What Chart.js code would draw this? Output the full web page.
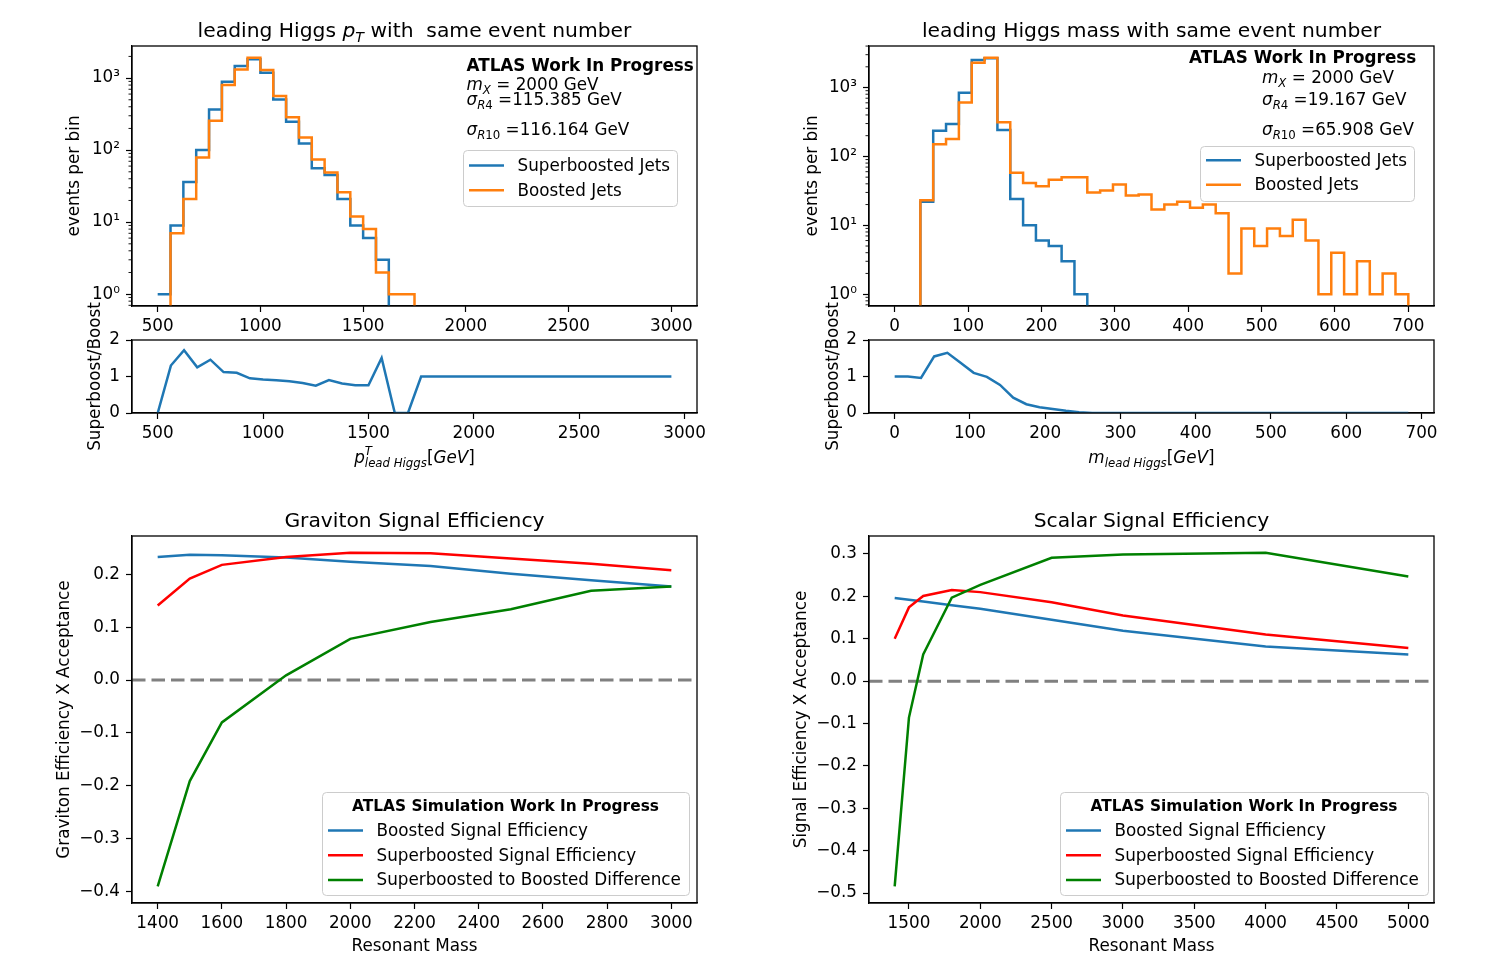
<!DOCTYPE html>
<html>
<head>
<meta charset="utf-8">
<title>Leading Higgs kinematics and signal efficiency</title>
<script src="https://cdn.jsdelivr.net/npm/chart.js@4.4.1/dist/chart.umd.min.js"></script>
<style>
  html, body { margin: 0; padding: 0; background: #fff; }
  #figure { position: relative; width: 1488px; height: 957px; background: #fff; }
  #figure canvas { position: absolute; left: 0; top: 0; }
</style>
</head>
<body>
<div id="figure">
  <canvas id="ptHistChart" width="1488" height="957"></canvas>
  <canvas id="ptRatioChart" width="1488" height="957"></canvas>
  <canvas id="massHistChart" width="1488" height="957"></canvas>
  <canvas id="massRatioChart" width="1488" height="957"></canvas>
  <canvas id="gravitonChart" width="1488" height="957"></canvas>
  <canvas id="scalarChart" width="1488" height="957"></canvas>
</div>
<script>
// ---------------- data ----------------
// leading Higgs pT, 40 bins of 62.5 GeV
const ptEdges = [500, 562.5, 625, 687.5, 750, 812.5, 875, 937.5, 1000, 1062.5, 1125, 1187.5, 1250, 1312.5,
  1375, 1437.5, 1500, 1562.5, 1625, 1687.5, 1750, 1812.5, 1875, 1937.5, 2000, 2062.5, 2125, 2187.5, 2250,
  2312.5, 2375, 2437.5, 2500, 2562.5, 2625, 2687.5, 2750, 2812.5, 2875, 2937.5, 3000];
const ptSuperboosted = [1, 9, 36, 100, 367, 889, 1468, 1820, 1185, 506, 247, 124, 56, 45, 21, 9, 6, 3, 0, 0,
  0, 0, 0, 0, 0, 0, 0, 0, 0, 0, 0, 0, 0, 0, 0, 0, 0, 0, 0, 0];
const ptBoosted = [0, 7, 21, 79, 255, 800, 1320, 1915, 1292, 562, 285, 150, 74, 49, 26, 12, 8, 2, 1, 1,
  0, 0, 0, 0, 0, 0, 0, 0, 0, 0, 0, 0, 0, 0, 0, 0, 0, 0, 0, 0];
const ptRatio = [0, 1.30, 1.72, 1.25, 1.46, 1.12, 1.10, 0.95, 0.92, 0.90, 0.87, 0.82, 0.75, 0.90, 0.81, 0.76,
  0.76, 1.51, 0, 0, 1, 1, 1, 1, 1, 1, 1, 1, 1, 1, 1, 1, 1, 1, 1, 1, 1, 1, 1, 1];

// leading Higgs mass, 40 bins of 17.5 GeV
const massEdges = [0, 17.5, 35, 52.5, 70, 87.5, 105, 122.5, 140, 157.5, 175, 192.5, 210, 227.5, 245, 262.5,
  280, 297.5, 315, 332.5, 350, 367.5, 385, 402.5, 420, 437.5, 455, 472.5, 490, 507.5, 525, 542.5, 560,
  577.5, 595, 612.5, 630, 647.5, 665, 682.5, 700];
const massSuperboosted = [0, 0, 22, 236, 296, 843, 2518, 2670, 242, 24, 10, 6, 5, 3, 1, 0, 0, 0, 0, 0,
  0, 0, 0, 0, 0, 0, 0, 0, 0, 0, 0, 0, 0, 0, 0, 0, 0, 0, 0, 0];
const massBoosted = [0, 0, 23, 150, 179, 604, 2300, 2700, 313, 58, 41, 37, 46, 50, 50, 30, 32, 39, 27, 28,
  17, 20, 22, 18, 20, 15, 2, 9, 5, 9, 7, 12, 6, 1, 4, 1, 3, 1, 2, 1];
const massRatio = [1, 1, 0.96, 1.55, 1.65, 1.38, 1.10, 0.99, 0.77, 0.42, 0.24, 0.16, 0.11, 0.06, 0.02, 0,
  0, 0, 0, 0, 0, 0, 0, 0, 0, 0, 0, 0, 0, 0, 0, 0, 0, 0, 0, 0, 0, 0, 0, 0];

// signal efficiency x acceptance
const gravitonMass = [1400, 1500, 1600, 1800, 2000, 2250, 2500, 2750, 3000];
const gravitonBoosted = [0.233, 0.237, 0.236, 0.232, 0.224, 0.216, 0.201, 0.189, 0.177];
const gravitonSuperboosted = [0.141, 0.192, 0.218, 0.233, 0.241, 0.240, 0.230, 0.220, 0.208];
const gravitonDifference = [-0.390, -0.191, -0.080, 0.009, 0.078, 0.110, 0.134, 0.169, 0.177];

const scalarMass = [1400, 1500, 1600, 1800, 2000, 2500, 3000, 4000, 5000];
const scalarBoosted = [0.196, 0.192, 0.188, 0.179, 0.171, 0.145, 0.119, 0.082, 0.063];
const scalarSuperboosted = [0.100, 0.174, 0.201, 0.215, 0.210, 0.186, 0.155, 0.110, 0.078];
const scalarDifference = [-0.484, -0.086, 0.063, 0.197, 0.227, 0.291, 0.299, 0.303, 0.247];

// tick labels
const ptTicks = [500, 1000, 1500, 2000, 2500, 3000];
const massTicks = [0, 100, 200, 300, 400, 500, 600, 700];
const countTicks = [1, 10, 100, 1000];
const ratioTicks = [0, 1, 2];
const gravitonXTicks = [1400, 1600, 1800, 2000, 2200, 2400, 2600, 2800, 3000];
const gravitonYTicks = [-0.4, -0.3, -0.2, -0.1, 0.0, 0.1, 0.2];
const scalarXTicks = [1500, 2000, 2500, 3000, 3500, 4000, 4500, 5000];
const scalarYTicks = [-0.5, -0.4, -0.3, -0.2, -0.1, 0.0, 0.1, 0.2, 0.3];

// ---------------- look ----------------
const PAGE_W = 1488, PAGE_H = 957, X_AXIS_H = 40;
const FONT = '"DejaVu Sans", sans-serif';
const FS = 16.8;        // ticks, labels, legend
const TITLE_FS = 20.3;  // panel titles
const LEGEND_TITLE_FS = 15.4;
const BLUE = '#1f77b4', ORANGE = '#ff7f0e', RED = '#ff0000', GREEN = '#008000';
const EMPTY_BIN = 1e-3; // empty bins sit below the log axis floor

Chart.defaults.font.family = FONT;
Chart.defaults.font.size = FS;
Chart.defaults.color = '#000';
Chart.defaults.animation = false;
Chart.defaults.plugins.legend.display = false;
Chart.defaults.plugins.tooltip.enabled = false;
Chart.defaults.elements.point.radius = 0;
Chart.defaults.elements.line.tension = 0;

// plot areas on the page
const AREAS = {
  ptHist: { left: 132, top: 46, right: 697, bottom: 306 },
  ptRatio: { left: 132, top: 340, right: 697, bottom: 413 },
  massHist: { left: 869, top: 46, right: 1434, bottom: 306 },
  massRatio: { left: 869, top: 340, right: 1434, bottom: 413 },
  graviton: { left: 132, top: 536, right: 697, bottom: 903 },
  scalar: { left: 869, top: 536, right: 1434, bottom: 903 }
};

// tick formatters
const plain = v => String(v);
const SUP = { '0': '\u2070', '1': '\u00b9', '2': '\u00b2', '3': '\u00b3' };
const powerOfTen = v => '10' + String(Math.round(Math.log10(v))).split('').map(c => SUP[c]).join('');
const oneDecimal = v => (v < -1e-9 ? '\u2212' : '') + Math.abs(v).toFixed(1);

function minorLogTicks(min, max) {
  const out = [];
  [0.1, 1, 10, 100, 1000].forEach(d => {
    for (let m = 2; m <= 9; m++) {
      const v = m * d;
      if (v >= min && v <= max) out.push(v);
    }
  });
  return out;
}

// ---------------- helpers ----------------
function axis(type, min, max, tickValues, format, pad) {
  return {
    type, min, max, bounds: 'data',
    afterBuildTicks: s => { s.ticks = tickValues.map(v => ({ value: v })); },
    grid: { drawOnChartArea: false, tickLength: 6, tickColor: '#000', tickWidth: 1.2 },
    border: { color: '#000', width: 1.2 },
    ticks: { padding: pad, autoSkip: false, maxRotation: 0, minRotation: 0, callback: format }
  };
}

// histogram drawn as a step outline: two points per bin
function stepPoints(edges, counts) {
  const pts = [];
  counts.forEach((c, i) => {
    const y = c > 0 ? c : EMPTY_BIN;
    pts.push({ x: edges[i], y }, { x: edges[i + 1], y });
  });
  pts.push({ x: edges[edges.length - 1], y: EMPTY_BIN });
  return pts;
}

function histDataset(label, edges, counts, color, order) {
  return { label, data: stepPoints(edges, counts), borderColor: color, borderWidth: 2.5, order, borderJoinStyle: 'miter' };
}

function lineDataset(label, xs, ys, color, order) {
  return { label, data: xs.map((x, i) => ({ x, y: ys[i] })), borderColor: color, borderWidth: 2.5, order };
}

// text with italic / sub / superscript pieces
function partFont(p, size) {
  const s = (p.sub || p.sup) ? size * 0.7 : size;
  return (p.it ? 'italic ' : '') + (p.bold ? 'bold ' : '') + s + 'px ' + FONT;
}

function drawRich(ctx, spec) {
  const size = spec.size || FS;
  const parts = spec.parts.map(p => (typeof p === 'string' ? { t: p } : p));
  let width = 0;
  parts.forEach(p => {
    ctx.font = partFont(p, size);
    p.w = ctx.measureText(p.t).width;
    if (!p.hold) width += p.w;
  });
  ctx.save();
  ctx.translate(spec.x, spec.y);
  if (spec.rotate) ctx.rotate(-Math.PI / 2);
  ctx.fillStyle = '#000';
  ctx.textAlign = 'left';
  ctx.textBaseline = 'alphabetic';
  let x = spec.align === 'center' ? -width / 2 : spec.align === 'right' ? -width : 0;
  parts.forEach(p => {
    ctx.font = partFont(p, size);
    const dy = p.sub ? 0.24 * size : p.sup ? -0.45 * size : 0;
    ctx.fillText(p.t, x, dy);
    if (!p.hold) x += p.w;
  });
  ctx.restore();
}

function drawLegend(chart, lg) {
  const ctx = chart.ctx;
  ctx.save();
  ctx.beginPath();
  ctx.roundRect(lg.x + 0.5, lg.y + 0.5, lg.w, lg.h, 4);
  ctx.fillStyle = 'rgba(255,255,255,0.8)';
  ctx.fill();
  ctx.strokeStyle = '#cccccc';
  ctx.lineWidth = 1;
  ctx.stroke();
  ctx.fillStyle = '#000';
  ctx.textBaseline = 'alphabetic';
  if (lg.title) {
    ctx.font = 'bold ' + LEGEND_TITLE_FS + 'px ' + FONT;
    ctx.textAlign = 'center';
    ctx.fillText(lg.title, lg.x + lg.w / 2, lg.titleBaseline);
  }
  ctx.textAlign = 'left';
  ctx.font = FS + 'px ' + FONT;
  chart.data.datasets.forEach((ds, i) => {
    const base = lg.firstBaseline + i * lg.rowGap;
    ctx.strokeStyle = ds.borderColor;
    ctx.lineWidth = ds.borderWidth;
    ctx.beginPath();
    ctx.moveTo(lg.x + 6, base - 5.5);
    ctx.lineTo(lg.x + 41, base - 5.5);
    ctx.stroke();
    ctx.fillText(ds.label, lg.x + 54.5, base);
  });
  ctx.restore();
}

// frame, minor ticks, zero line, texts and legend
function figureDecor(cfg) {
  return {
    id: 'figureDecor',
    beforeDatasetsDraw(chart) {
      if (!cfg.zeroLine) return;
      const { ctx, chartArea: a } = chart;
      const y = chart.scales.y.getPixelForValue(0);
      ctx.save();
      ctx.strokeStyle = '#808080';
      ctx.lineWidth = 3;
      ctx.setLineDash([13.5, 6]);
      ctx.beginPath();
      ctx.moveTo(a.left, y);
      ctx.lineTo(a.right, y);
      ctx.stroke();
      ctx.restore();
    },
    afterDraw(chart) {
      const { ctx, chartArea: a } = chart;
      ctx.save();
      ctx.strokeStyle = '#000';
      ctx.lineWidth = 1.3;
      ctx.strokeRect(a.left, a.top, a.right - a.left, a.bottom - a.top);
      if (cfg.minorY) {
        ctx.lineWidth = 0.9;
        cfg.minorY.forEach(v => {
          const p = chart.scales.y.getPixelForValue(v);
          if (p < a.top || p > a.bottom) return;
          ctx.beginPath();
          ctx.moveTo(a.left - 3.5, p);
          ctx.lineTo(a.left, p);
          ctx.stroke();
        });
      }
      ctx.restore();
      (cfg.texts || []).forEach(t => drawRich(ctx, t));
      if (cfg.legend) drawLegend(chart, cfg.legend);
    }
  };
}

function makeChart(canvasId, area, datasets, xAxis, yAxis, decor) {
  const ctx = document.getElementById(canvasId).getContext('2d');
  xAxis.afterFit = s => { s.height = X_AXIS_H; };
  yAxis.afterFit = s => { s.width = area.left; };
  return new Chart(ctx, {
    type: 'line',
    data: { datasets },
    options: {
      responsive: false,
      devicePixelRatio: 1,
      layout: { padding: { left: 0, top: area.top, right: PAGE_W - area.right, bottom: PAGE_H - area.bottom - X_AXIS_H } },
      scales: { x: xAxis, y: yAxis }
    },
    plugins: [figureDecor(decor)]
  });
}

const cx = a => (a.left + a.right) / 2;
const cy = a => (a.top + a.bottom) / 2;

// ---------------- leading Higgs pT ----------------
const ptHistChart = makeChart('ptHistChart', AREAS.ptHist,
  [histDataset('Superboosted Jets', ptEdges, ptSuperboosted, BLUE, 1),
   histDataset('Boosted Jets', ptEdges, ptBoosted, ORANGE, 0)],
  axis('linear', 375, 3125, ptTicks, plain, 4.5),
  axis('logarithmic', 0.685, 2790, countTicks, powerOfTen, 6),
  {
    minorY: minorLogTicks(0.685, 2790),
    texts: [
      { x: cx(AREAS.ptHist), y: 37, align: 'center', size: TITLE_FS,
        parts: ['leading Higgs ', { t: 'p', it: true }, { t: 'T', it: true, sub: true }, ' with  same event number'] },
      { x: 79, y: cy(AREAS.ptHist), align: 'center', rotate: true, parts: ['events per bin'] },
      { x: 466.5, y: 71, parts: [{ t: 'ATLAS Work In Progress', bold: true }] },
      { x: 466.5, y: 89.5, parts: [{ t: 'm', it: true }, { t: 'X', it: true, sub: true }, ' = 2000 GeV'] },
      { x: 466.5, y: 105, parts: [{ t: '\u03c3', it: true }, { t: 'R', it: true, sub: true }, { t: '4', sub: true }, ' =115.385 GeV'] },
      { x: 466.5, y: 135, parts: [{ t: '\u03c3', it: true }, { t: 'R', it: true, sub: true }, { t: '10', sub: true }, ' =116.164 GeV'] }
    ],
    legend: { x: 463, y: 150, w: 214, h: 56, firstBaseline: 171, rowGap: 24.7 }
  });

const ptRatioChart = makeChart('ptRatioChart', AREAS.ptRatio,
  [lineDataset('Superboost/Boost', ptEdges.slice(0, ptRatio.length), ptRatio, BLUE, 0)],
  axis('linear', 378, 3059, ptTicks, plain, 4.5),
  axis('linear', 0, 2, ratioTicks, plain, 6),
  {
    texts: [
      { x: 100, y: cy(AREAS.ptRatio), align: 'center', rotate: true, parts: ['Superboost/Boost'] },
      { x: cx(AREAS.ptRatio), y: 463, align: 'center',
        parts: [{ t: 'p', it: true }, { t: 'T', it: true, sup: true, hold: true }, { t: 'lead Higgs', it: true, sub: true }, '[', { t: 'GeV', it: true }, ']'] }
    ]
  });

// ---------------- leading Higgs mass ----------------
const massHistChart = makeChart('massHistChart', AREAS.massHist,
  [histDataset('Superboosted Jets', massEdges, massSuperboosted, BLUE, 1),
   histDataset('Boosted Jets', massEdges, massBoosted, ORANGE, 0)],
  axis('linear', -35, 735, massTicks, plain, 4.5),
  axis('logarithmic', 0.673, 4010, countTicks, powerOfTen, 6),
  {
    minorY: minorLogTicks(0.673, 4010),
    texts: [
      { x: cx(AREAS.massHist), y: 37, align: 'center', size: TITLE_FS, parts: ['leading Higgs mass with same event number'] },
      { x: 817, y: cy(AREAS.massHist), align: 'center', rotate: true, parts: ['events per bin'] },
      { x: 1189, y: 62.7, parts: [{ t: 'ATLAS Work In Progress', bold: true }] },
      { x: 1262, y: 82.7, parts: [{ t: 'm', it: true }, { t: 'X', it: true, sub: true }, ' = 2000 GeV'] },
      { x: 1262, y: 105, parts: [{ t: '\u03c3', it: true }, { t: 'R', it: true, sub: true }, { t: '4', sub: true }, ' =19.167 GeV'] },
      { x: 1262, y: 134.5, parts: [{ t: '\u03c3', it: true }, { t: 'R', it: true, sub: true }, { t: '10', sub: true }, ' =65.908 GeV'] }
    ],
    legend: { x: 1200, y: 146, w: 214, h: 55, firstBaseline: 165.7, rowGap: 24.5 }
  });

const massRatioChart = makeChart('massRatioChart', AREAS.massRatio,
  [lineDataset('Superboost/Boost', massEdges.slice(0, massRatio.length), massRatio, BLUE, 0)],
  axis('linear', -34.1, 716.6, massTicks, plain, 4.5),
  axis('linear', 0, 2, ratioTicks, plain, 6),
  {
    texts: [
      { x: 838, y: cy(AREAS.massRatio), align: 'center', rotate: true, parts: ['Superboost/Boost'] },
      { x: cx(AREAS.massRatio), y: 463, align: 'center',
        parts: [{ t: 'm', it: true }, { t: 'lead Higgs', it: true, sub: true }, '[', { t: 'GeV', it: true }, ']'] }
    ]
  });

// ---------------- signal efficiencies ----------------
const efficiencyLegend = (x, w) => ({
  x, y: 792, w, h: 103, title: 'ATLAS Simulation Work In Progress', titleBaseline: 811, firstBaseline: 836, rowGap: 24.7
});

const gravitonChart = makeChart('gravitonChart', AREAS.graviton,
  [lineDataset('Boosted Signal Efficiency', gravitonMass, gravitonBoosted, BLUE, 3),
   lineDataset('Superboosted Signal Efficiency', gravitonMass, gravitonSuperboosted, RED, 2),
   lineDataset('Superboosted to Boosted Difference', gravitonMass, gravitonDifference, GREEN, 1)],
  axis('linear', 1320, 3080, gravitonXTicks, plain, 4.5),
  axis('linear', -0.4216, 0.2726, gravitonYTicks, oneDecimal, 6),
  {
    zeroLine: true,
    texts: [
      { x: cx(AREAS.graviton), y: 527, align: 'center', size: TITLE_FS, parts: ['Graviton Signal Efficiency'] },
      { x: cx(AREAS.graviton), y: 951, align: 'center', parts: ['Resonant Mass'] },
      { x: 69, y: cy(AREAS.graviton), align: 'center', rotate: true, parts: ['Graviton Efficiency X Acceptance'] }
    ],
    legend: efficiencyLegend(322, 367)
  });

const scalarChart = makeChart('scalarChart', AREAS.scalar,
  [lineDataset('Boosted Signal Efficiency', scalarMass, scalarBoosted, BLUE, 3),
   lineDataset('Superboosted Signal Efficiency', scalarMass, scalarSuperboosted, RED, 2),
   lineDataset('Superboosted to Boosted Difference', scalarMass, scalarDifference, GREEN, 1)],
  axis('linear', 1220, 5180, scalarXTicks, plain, 4.5),
  axis('linear', -0.5234, 0.3424, scalarYTicks, oneDecimal, 6),
  {
    zeroLine: true,
    texts: [
      { x: cx(AREAS.scalar), y: 527, align: 'center', size: TITLE_FS, parts: ['Scalar Signal Efficiency'] },
      { x: cx(AREAS.scalar), y: 951, align: 'center', parts: ['Resonant Mass'] },
      { x: 806, y: cy(AREAS.scalar), align: 'center', rotate: true, parts: ['Signal Efficiency X Acceptance'] }
    ],
    legend: efficiencyLegend(1060, 368)
  });
</script>
</body>
</html>
